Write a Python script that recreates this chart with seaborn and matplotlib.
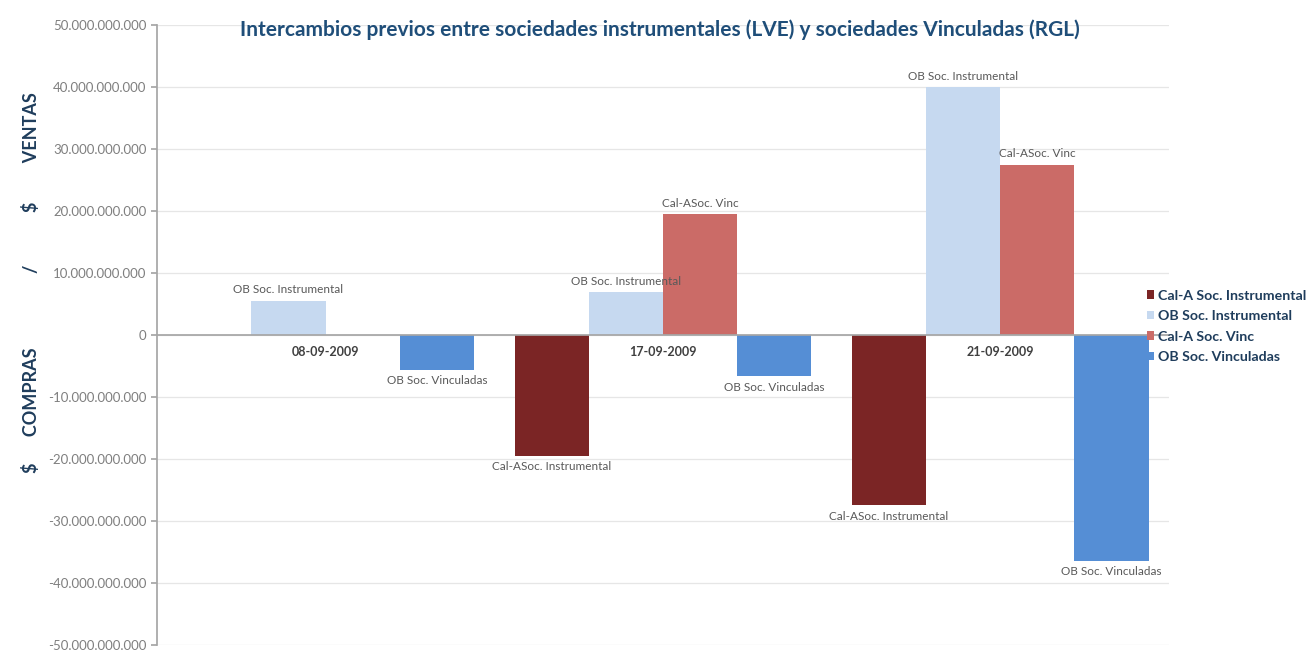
import matplotlib
matplotlib.use("Agg")
import matplotlib.pyplot as plt
import matplotlib.ticker as mticker
import pandas as pd
import seaborn as sns

fechas = ["08-09-2009", "17-09-2009", "21-09-2009"]
series = ["Cal-A Soc. Instrumental", "OB Soc. Instrumental", "Cal-A Soc. Vinc", "OB Soc. Vinculadas"]
etiquetas = ["Cal-ASoc. Instrumental", "OB Soc. Instrumental", "Cal-ASoc. Vinc", "OB Soc. Vinculadas"]
cal_a_instr = [0, -19.5e9, -27.5e9]
ob_instr = [5.5e9, 6.9e9, 40.0e9]
cal_a_vinc = [0, 19.5e9, 27.5e9]
ob_vinc = [-5.6e9, -6.6e9, -36.4e9]
colores = ["#7b2525", "#c6d9f0", "#cb6b67", "#558ed5"]

valores = [cal_a_instr, ob_instr, cal_a_vinc, ob_vinc]
df = pd.DataFrame({
    "fecha": [f for s in series for f in fechas],
    "serie": [s for s in series for f in fechas],
    "monto": [v for vals in valores for v in vals],
})

sns.set_theme(style="white")
plt.rcParams['font.family'] = ['Lato', 'DejaVu Sans']

fig = plt.figure(figsize=(13.14, 6.5), dpi=100)
ax = fig.add_axes([0.1195, 0.008, 0.77, 0.953])

sns.barplot(data=df, x="fecha", y="monto", hue="serie", order=fechas, hue_order=series,
            palette=dict(zip(series, colores)), width=0.88, saturation=1, linewidth=0,
            edgecolor="none", ax=ax)

for cont, lab, vals in zip(ax.containers, etiquetas, valores):
    labs = [lab if v != 0 else "" for v in vals]
    ax.bar_label(cont, labels=labs, padding=4, fontsize=8.5, color="#595959")

ax.set_ylim(-50e9, 50e9)
ax.set_xlim(-0.5, 2.5)
ax.yaxis.set_major_locator(mticker.MultipleLocator(10e9))
ax.yaxis.set_major_formatter(mticker.FuncFormatter(lambda v, p: f"{v:,.0f}".replace(",", ".")))
ax.tick_params(axis="y", labelsize=9.5, labelcolor="#7f7f7f", length=4, color="#a6a6a6", left=True)
ax.grid(axis="y", color="#e6e6e6", linewidth=0.9)
ax.set_axisbelow(True)

for s in ["top", "right"]:
    ax.spines[s].set_visible(False)
ax.spines["left"].set_color("#a6a6a6")
ax.spines["bottom"].set_position(("data", 0))
ax.spines["bottom"].set_color("#a6a6a6")
ax.tick_params(axis="x", length=0, pad=8, labelsize=9, labelcolor="#404040")
for t in ax.get_xticklabels():
    t.set_fontweight("bold")
ax.set_xlabel("")
ax.set_ylabel(r"\$" + " " * 6 + "COMPRAS" + " " * 17 + "/" + " " * 12 + r"\$" + " " * 9 + "VENTAS",
              fontsize=13, fontweight="bold", color="#1f3d5c")
ax.yaxis.set_label_coords(-0.116, 0.585)

handles, labels = ax.get_legend_handles_labels()
ax.legend(handles, labels, loc="center left", bbox_to_anchor=(0.863, 0.498),
          bbox_transform=fig.transFigure, frameon=False,
          handlelength=0.5, handleheight=0.5, handletextpad=0.3, labelspacing=0.6,
          labelcolor="#1f3d5c", prop={"weight": "bold", "size": 10.2})

fig.text(0.502, 0.954, "Intercambios previos entre sociedades instrumentales (LVE) y sociedades Vinculadas (RGL)",
         ha="center", va="center", fontsize=15, fontweight="bold", color="#1f4e79")

fig.savefig("out.png", dpi=100)
